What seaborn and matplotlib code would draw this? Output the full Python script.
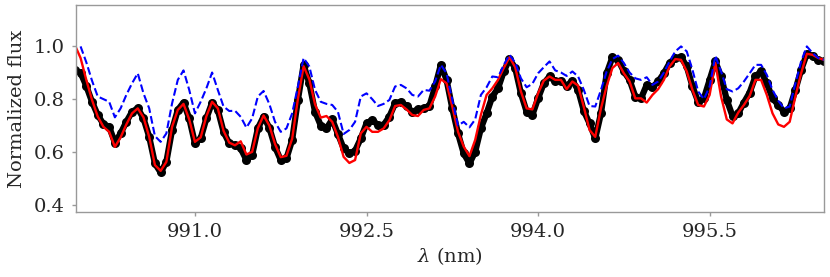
import numpy as np
import pandas as pd
import matplotlib
matplotlib.use("Agg")
import matplotlib.pyplot as plt
import seaborn as sns

# wavelength sampling grid (nm)
wavelength = np.round(np.arange(989.95, 996.501, 0.05), 2)

observed = [
    0.91, 0.90, 0.85, 0.79, 0.74, 0.705, 0.695, 0.635, 0.67, 0.714,
    0.752, 0.765, 0.727, 0.657, 0.556, 0.522, 0.562, 0.683, 0.759, 0.787,
    0.727, 0.632, 0.651, 0.727, 0.787, 0.759, 0.676, 0.632, 0.626, 0.613,
    0.569, 0.588, 0.689, 0.734, 0.692, 0.619, 0.569, 0.575, 0.645, 0.797,
    0.93, 0.86, 0.752, 0.70, 0.689, 0.723, 0.668, 0.613, 0.594, 0.604,
    0.651, 0.708, 0.721, 0.702, 0.702, 0.734, 0.784, 0.79, 0.774, 0.752,
    0.761, 0.765, 0.774, 0.848, 0.93, 0.873, 0.765, 0.67, 0.594, 0.556,
    0.60, 0.689, 0.746, 0.81, 0.841, 0.905, 0.952, 0.918, 0.822, 0.752,
    0.74, 0.803, 0.86, 0.886, 0.867, 0.87, 0.85, 0.87, 0.835, 0.755,
    0.708, 0.651, 0.746, 0.898, 0.959, 0.949, 0.905, 0.873, 0.81, 0.803,
    0.854, 0.845, 0.867, 0.898, 0.937, 0.956, 0.959, 0.924, 0.848, 0.79,
    0.803, 0.873, 0.943, 0.886, 0.797, 0.736, 0.746, 0.787, 0.825, 0.886,
    0.905, 0.86, 0.803, 0.778, 0.752, 0.765, 0.835, 0.911, 0.972, 0.964,
    0.947, 0.943,
]

model_red = [
    1.005, 0.956, 0.873, 0.797, 0.734, 0.695, 0.676, 0.619, 0.655, 0.704,
    0.746, 0.765, 0.731, 0.657, 0.55, 0.528, 0.562, 0.695, 0.759, 0.782,
    0.723, 0.638, 0.655, 0.735, 0.79, 0.765, 0.68, 0.635, 0.625, 0.64,
    0.59, 0.60, 0.69, 0.738, 0.70, 0.63, 0.58, 0.585, 0.65, 0.80,
    0.925, 0.875, 0.78, 0.73, 0.736, 0.714, 0.657, 0.581, 0.558, 0.569,
    0.67, 0.695, 0.676, 0.676, 0.689, 0.72, 0.774, 0.778, 0.761, 0.74,
    0.736, 0.759, 0.765, 0.81, 0.876, 0.86, 0.772, 0.676, 0.62, 0.584,
    0.645, 0.74, 0.816, 0.841, 0.873, 0.918, 0.959, 0.921, 0.829, 0.765,
    0.761, 0.822, 0.87, 0.886, 0.873, 0.873, 0.838, 0.867, 0.851, 0.77,
    0.683, 0.657, 0.765, 0.85, 0.918, 0.937, 0.898, 0.867, 0.803, 0.803,
    0.787, 0.816, 0.838, 0.873, 0.924, 0.952, 0.949, 0.905, 0.835, 0.778,
    0.772, 0.816, 0.937, 0.81, 0.723, 0.708, 0.749, 0.778, 0.812, 0.873,
    0.873, 0.816, 0.746, 0.704, 0.695, 0.714, 0.81, 0.898, 0.972, 0.968,
    0.956, 0.949,
]

model_blue = [
    np.nan, 1.0, 0.94, 0.87, 0.81, 0.80, 0.79, 0.731, 0.765, 0.816,
    0.86, 0.898, 0.822, 0.765, 0.66, 0.638, 0.67, 0.784, 0.873, 0.909,
    0.835, 0.746, 0.79, 0.841, 0.901, 0.835, 0.772, 0.755, 0.756, 0.733,
    0.692, 0.727, 0.81, 0.831, 0.782, 0.714, 0.676, 0.689, 0.746, 0.848,
    0.956, 0.924, 0.835, 0.79, 0.782, 0.778, 0.752, 0.668, 0.683, 0.714,
    0.81, 0.822, 0.80, 0.774, 0.782, 0.797, 0.848, 0.854, 0.841, 0.816,
    0.81, 0.835, 0.832, 0.867, 0.93, 0.898, 0.797, 0.70, 0.714, 0.693,
    0.723, 0.816, 0.845, 0.886, 0.883, 0.93, 0.968, 0.939, 0.879, 0.845,
    0.858, 0.898, 0.921, 0.943, 0.909, 0.901, 0.888, 0.905, 0.886, 0.835,
    0.774, 0.772, 0.835, 0.905, 0.952, 0.965, 0.937, 0.901, 0.879, 0.873,
    0.883, 0.854, 0.867, 0.901, 0.943, 0.981, 1.0, 0.981, 0.911, 0.829,
    0.80, 0.848, 0.964, 0.905, 0.838, 0.829, 0.841, 0.867, 0.898, 0.93,
    0.93, 0.892, 0.835, 0.794, 0.765, 0.772, 0.86, 0.943, 1.0, 0.975,
    0.956, 0.949,
]

xticks = [991.0, 992.5, 994.0, 995.5]
yticks = [0.4, 0.6, 0.8, 1.0]

df = pd.DataFrame({"wl": wavelength, "obs": observed,
                   "red": model_red, "blue": model_blue})

sns.set_theme(style="ticks")
plt.rcParams["font.family"] = ["DejaVu Serif"]
plt.rcParams["mathtext.fontset"] = "dejavuserif"

fig = plt.figure(figsize=(8.3, 2.77), dpi=100)
ax = fig.add_axes([76 / 830, 1 - 212 / 277, (824 - 76) / 830, (212 - 5) / 277])

sns.lineplot(data=df, x="wl", y="obs", ax=ax, color="black", lw=4.5,
             marker="o", markersize=6.5, markeredgewidth=0, sort=False)
sns.lineplot(data=df, x="wl", y="red", ax=ax, color="red", lw=1.7, sort=False)
sns.lineplot(data=df, x="wl", y="blue", ax=ax, color="blue", lw=1.5,
             linestyle="--", sort=False)

ax.set_xlim(989.96, 996.50)
ax.set_ylim(0.372, 1.157)
ax.set_xticks(xticks)
ax.set_xticklabels([f"{t:.1f}" for t in xticks])
ax.set_yticks(yticks)
ax.set_yticklabels([f"{t:.1f}" for t in yticks])
ax.set_xlabel(r"$\lambda$ (nm)", fontsize=14, labelpad=3)
ax.set_ylabel("Normalized flux", fontsize=14, labelpad=6)
ax.tick_params(labelsize=14, color="#999999", length=3, width=1, pad=5)
for s in ax.spines.values():
    s.set_color("#999999")
    s.set_linewidth(1)

fig.savefig("out.png", dpi=100)
